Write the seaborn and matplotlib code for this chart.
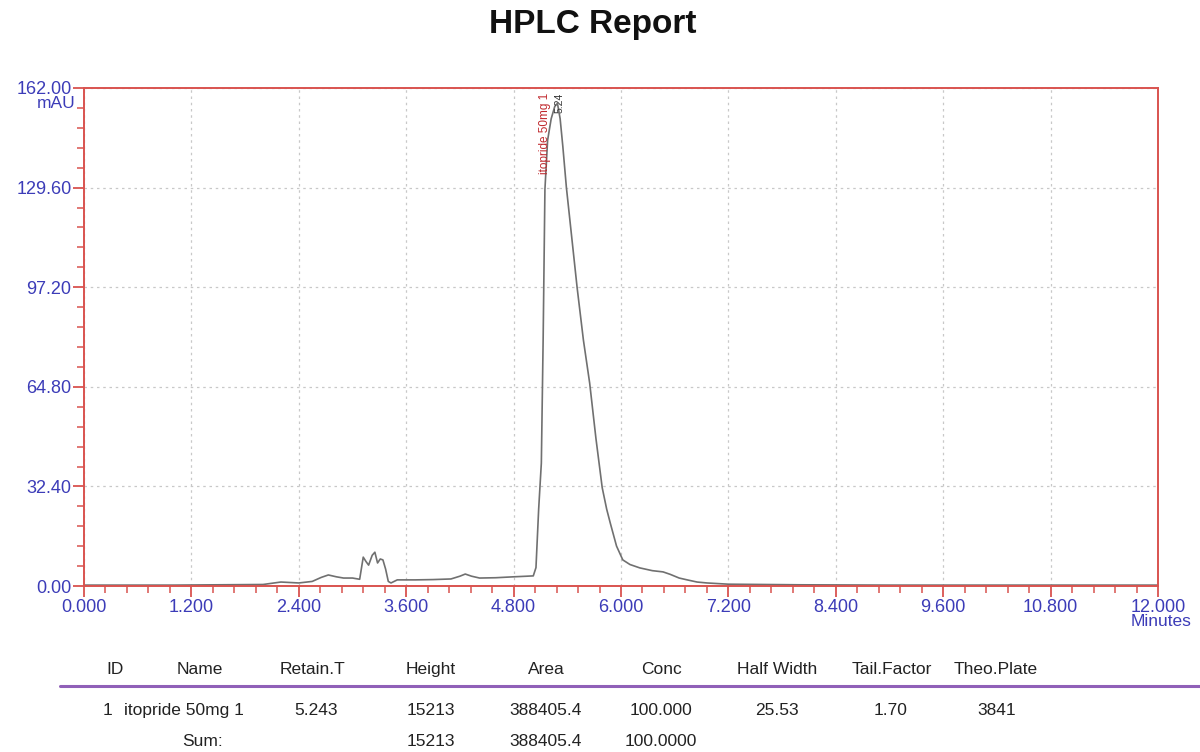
import numpy as np
import pandas as pd
import matplotlib
matplotlib.use("Agg")
import matplotlib.pyplot as plt
import seaborn as sns
from matplotlib.ticker import MultipleLocator, FormatStrFormatter
from matplotlib.lines import Line2D

# chromatogram trace (minutes, mAU)
time_min = [0.00, 0.50, 1.00, 1.50, 2.00, 2.20, 2.40, 2.55, 2.65, 2.73, 2.82, 2.90,
            3.00, 3.08, 3.12, 3.15, 3.18, 3.22, 3.25, 3.28, 3.31, 3.34, 3.37, 3.40,
            3.43, 3.50, 3.70, 3.90, 4.10, 4.20, 4.26, 4.33, 4.42, 4.60, 4.80, 4.95,
            5.02, 5.05, 5.08, 5.11, 5.13, 5.15, 5.18, 5.22, 5.26, 5.29, 5.32, 5.35,
            5.39, 5.51, 5.58, 5.65, 5.72, 5.79, 5.84, 5.88, 5.95, 6.02, 6.10, 6.21,
            6.35, 6.47, 6.55, 6.65, 6.74, 6.85, 6.96, 7.20, 8.00, 9.00, 10.00, 11.00, 12.00]
signal_mau = [0.3, 0.3, 0.3, 0.4, 0.5, 1.3, 1.0, 1.5, 2.8, 3.6, 3.0, 2.6,
              2.6, 2.2, 9.4, 8.0, 6.8, 10.0, 11.0, 7.5, 8.8, 8.5, 5.5, 1.5,
              1.0, 2.0, 2.0, 2.1, 2.3, 3.2, 3.9, 3.2, 2.6, 2.7, 3.0, 3.2,
              3.3, 6.0, 25.0, 40.0, 80.0, 129.0, 145.0, 152.0, 156.0, 157.0, 152.0, 143.0,
              129.6, 97.0, 80.0, 66.0, 48.0, 32.0, 25.0, 20.5, 13.0, 8.5, 7.0, 5.9,
              5.0, 4.6, 3.8, 2.6, 2.0, 1.3, 1.0, 0.6, 0.4, 0.3, 0.3, 0.3, 0.3]

# peak table
headers = ["ID", "Name", "Retain.T", "Height", "Area", "Conc", "Half Width", "Tail.Factor", "Theo.Plate"]
row_peak = ["1", "itopride 50mg 1", "5.243", "15213", "388405.4", "100.000", "25.53", "1.70", "3841"]
row_sum = ["", "Sum:", "", "15213", "388405.4", "100.0000", "", "", ""]

df = pd.DataFrame({"time": time_min, "signal": signal_mau})

sns.set_style("white")
plt.rcParams["font.family"] = ["Liberation Sans", "DejaVu Sans"]

red = "#d9534f"
blue = "#3c3cb8"

fig = plt.figure(figsize=(12, 7.52), dpi=100)
ax = fig.add_axes([0.07, 0.2207, 0.895, 0.6623])

sns.lineplot(data=df, x="time", y="signal", ax=ax, color="#707070", linewidth=1.2)

ax.set_xlim(0, 12)
ax.set_ylim(0, 162)
ax.xaxis.set_major_locator(MultipleLocator(1.2))
ax.xaxis.set_minor_locator(MultipleLocator(0.24))
ax.yaxis.set_major_locator(MultipleLocator(32.4))
ax.yaxis.set_minor_locator(MultipleLocator(6.48))
ax.xaxis.set_major_formatter(FormatStrFormatter("%.3f"))
ax.yaxis.set_major_formatter(FormatStrFormatter("%.2f"))
ax.tick_params(which="both", bottom=True, left=True, top=False, right=False)
ax.tick_params(which="major", direction="out", length=8, width=1.3, color=red,
               labelcolor=blue, labelsize=13, pad=1)
ax.tick_params(which="minor", direction="out", length=5, width=1.1, color=red)
ax.set_xlabel("")
ax.set_ylabel("")
for s in ax.spines.values():
    s.set_color(red)
    s.set_linewidth(1.4)
ax.grid(True, which="major", linestyle=(0, (2, 3)), color="#c8c8c8", linewidth=0.9)

# peak labels
ax.text(5.15, 160.5, "itopride 50mg 1", rotation=90, ha="center", va="top",
        color="#c0282d", fontsize=8.5)
ax.text(5.31, 160.5, "5.24", rotation=90, ha="center", va="top",
        color="#333333", fontsize=7.5)

fig.text(0.494, 0.968, "HPLC Report", ha="center", va="center",
         fontsize=24, fontweight="bold", color="#111111")
fig.text(0.047, 0.862, "mAU", ha="center", va="center", color=blue, fontsize=12.5)
fig.text(0.9675, 0.173, "Minutes", ha="center", va="center", color=blue, fontsize=12.5)

# table
col_x = [115, 200, 313, 431, 546, 661, 777, 892, 996]
for x, h in zip(col_x, headers):
    fig.text(x / 1200, 1 - 674 / 752, h, ha="center", va="baseline", fontsize=12.5,
             color="#222222")
fig.add_artist(Line2D([60 / 1200, 1.0], [1 - 686 / 752] * 2, color="#9060b8",
                      linewidth=2.2, transform=fig.transFigure))
row_x = [108, 184, 316, 431, 546, 661, 777, 891, 997]
for x, v in zip(row_x, row_peak):
    fig.text(x / 1200, 1 - 715 / 752, v, ha="center", va="baseline", fontsize=12.5,
             color="#222222")
for x, v in zip([112, 203, 316, 431, 546, 661, 777, 891, 997], row_sum):
    if v:
        fig.text(x / 1200, 1 - 746 / 752, v, ha="center", va="baseline", fontsize=12.5,
                 color="#222222")

fig.savefig("out.png", dpi=100, facecolor="white")
